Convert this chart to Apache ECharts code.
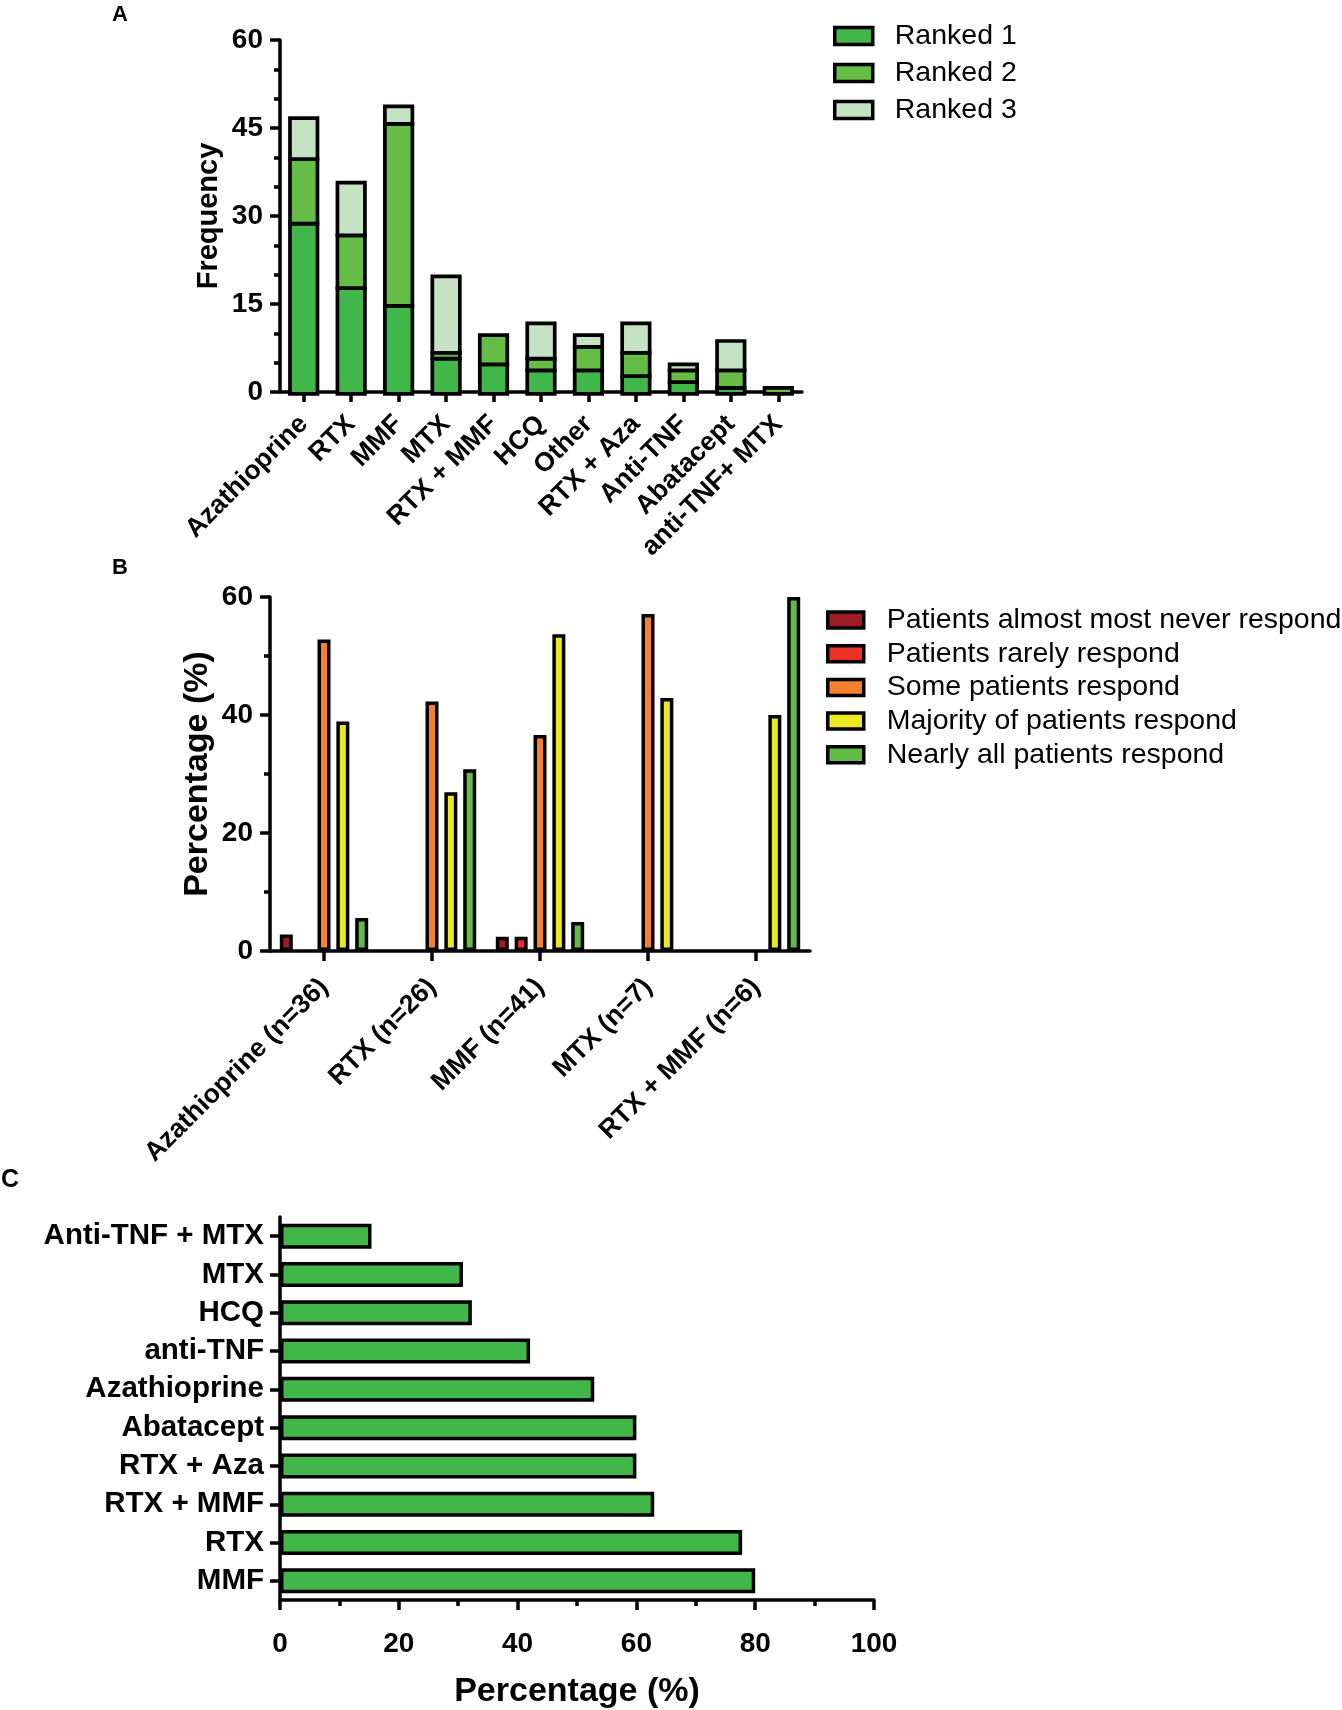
<!DOCTYPE html>
<html>
<head>
<meta charset="utf-8">
<script src="https://cdn.jsdelivr.net/npm/echarts@6/dist/echarts.min.js"></script>
<style>
html,body{margin:0;padding:0;background:#fff;}
#chart{width:1342px;height:1710px;}
</style>
</head>
<body>
<div id="chart"></div>
<script>
// ---- Panel A data ----
const rankCats = ['Azathioprine','RTX','MMF','MTX','RTX + MMF','HCQ','Other','RTX + Aza','Anti-TNF','Abatacept','anti-TNF+ MTX'];
const ranked1 = [29, 18, 15, 6, 5, 4, 4, 3, 2, 1, 0];
const ranked2 = [11, 9, 31, 1, 5, 2, 4, 4, 2, 3, 1];
const ranked3 = [7, 9, 3, 13, 0, 6, 2, 5, 1, 5, 0];
const rankTicks = [0, 15, 30, 45, 60];

// ---- Panel B data ----
const respCats = ['Azathioprine (n=36)','RTX (n=26)','MMF (n=41)','MTX (n=7)','RTX + MMF (n=6)'];
const almostNever = [2.8, 0, 2.4, 0, 0];
const rarely = [0, 0, 2.4, 0, 0];
const someResp = [52.8, 42.3, 36.6, 57.1, 0];
const majorityResp = [38.9, 26.9, 53.7, 42.9, 40];
const nearlyAll = [5.6, 30.8, 4.9, 0, 60];
const respTicks = [0, 20, 40, 60];

// ---- Panel C data ----
const effCats = ['Anti-TNF + MTX','MTX','HCQ','anti-TNF','Azathioprine','Abatacept','RTX + Aza','RTX + MMF','RTX','MMF'];
const effVals = [15.4, 30.8, 32.3, 42.1, 52.9, 60, 60, 63, 77.8, 80];
const effTicks = [0, 20, 40, 60, 80, 100];

const FONT = '"Liberation Sans", Arial, Helvetica, sans-serif';
const nz = arr => arr.map(v => v === 0 ? '-' : v);

// stacked segments [categoryIndex, start, end] built from the rank arrays
const rankSeries = [ranked1, ranked2, ranked3];
const rankColors = ['#41b649', '#66bd46', '#c4e3c3'];
const rankNames = ['Ranked 1', 'Ranked 2', 'Ranked 3'];
const cumul = rankCats.map(() => 0);
const rankSegments = rankSeries.map(arr => arr.map((v, i) => {
  const s = cumul[i];
  cumul[i] += v;
  return [i, s, s + v];
}));

function stackRender(color) {
  return function (params, api) {
    const idx = api.value(0), start = api.value(1), end = api.value(2);
    if (!(end > start)) return null;
    const pb = api.coord([idx, start]);
    const pt = api.coord([idx, end]);
    const w = 27.5;
    return {
      type: 'rect',
      shape: {x: pb[0] - w / 2, y: pt[1] + 1.8, width: w, height: pb[1] - pt[1]},
      style: {fill: color, stroke: '#000', lineWidth: 3.7}
    };
  };
}

const chart = echarts.init(document.getElementById('chart'), null, {renderer: 'canvas'});

function axisLine(w){ return {show:true, lineStyle:{color:'#000', width:w}}; }

const series = [];
rankNames.forEach((name, k) => {
  series.push({
    name: name, type: 'custom', xAxisIndex: 0, yAxisIndex: 0,
    data: rankSegments[k], encode: {x: 0, y: [1, 2]},
    itemStyle: {color: rankColors[k], borderColor: '#000', borderWidth: 3},
    renderItem: stackRender(rankColors[k]), z: 2 + k
  });
});

const respSeries = [
  ['Patients almost most never respond', almostNever, '#9e1d20'],
  ['Patients rarely respond', rarely, '#ed3127'],
  ['Some patients respond', someResp, '#f5822a'],
  ['Majority of patients respond', majorityResp, '#eee823'],
  ['Nearly all patients respond', nearlyAll, '#62bb46']
];
respSeries.forEach(([name, arr, color]) => {
  series.push({
    name: name, type: 'bar', xAxisIndex: 1, yAxisIndex: 1, data: nz(arr),
    barWidth: 13, barGap: '45%',
    itemStyle: {color: color, borderColor: '#000', borderWidth: 3.5}
  });
});

series.push({
  name: 'Effectiveness', type: 'bar', xAxisIndex: 2, yAxisIndex: 2, data: effVals, barWidth: 25,
  itemStyle: {color: '#41b649', borderColor: '#000', borderWidth: 3.5}
});

const option = {
  backgroundColor: '#fff',
  animation: false,
  textStyle: {fontFamily: FONT},
  title: [
    {text:'A', left:112, top:4, padding:0, textStyle:{fontSize:22, fontWeight:'bold', color:'#000', fontFamily:FONT}},
    {text:'B', left:112, top:557, padding:0, textStyle:{fontSize:22, fontWeight:'bold', color:'#000', fontFamily:FONT}},
    {text:'C', left:1, top:1168, padding:0, textStyle:{fontSize:25, fontWeight:'bold', color:'#000', fontFamily:FONT}}
  ],
  legend: [
    {
      data: rankNames,
      orient: 'vertical', left: 833, top: 21, padding: 0,
      itemWidth: 38, itemHeight: 17, itemGap: 7,
      icon: 'rect',
      itemStyle: {borderColor:'#000', borderWidth:3.5},
      textStyle: {fontSize:28.5, color:'#000', fontFamily:FONT, lineHeight:30, padding:[0,0,0,17]},
      selectedMode: false
    },
    {
      data: respSeries.map(s => s[0]),
      orient: 'vertical', left: 826, top: 605, padding: 0,
      itemWidth: 36, itemHeight: 16, itemGap: 3.7,
      icon: 'rect',
      itemStyle: {borderColor:'#000', borderWidth:3.5},
      textStyle: {fontSize:28.5, color:'#000', fontFamily:FONT, lineHeight:30, padding:[0,0,0,18]},
      selectedMode: false
    }
  ],
  grid: [
    {left:280, top:40, width:522, height:352},
    {left:270, top:597, width:540, height:354},
    {left:280, top:1217, width:594, height:384}
  ],
  xAxis: [
    {
      gridIndex:0, type:'category', data: rankCats,
      axisLine: axisLine(3.5),
      axisTick: {show:true, alignWithLabel:true, length:10, lineStyle:{width:3.5, color:'#000'}},
      axisLabel: {rotate:45, fontSize:26.5, fontWeight:'bold', color:'#000', fontFamily:FONT, margin:28, interval:0}
    },
    {
      gridIndex:1, type:'category', data: respCats,
      axisLine: axisLine(3.5),
      axisTick: {show:true, alignWithLabel:true, length:10, lineStyle:{width:3.5, color:'#000'}},
      axisLabel: {rotate:45, fontSize:26.5, fontWeight:'bold', color:'#000', fontFamily:FONT, margin:32, interval:0}
    },
    {
      gridIndex:2, type:'value', min: effTicks[0], max: effTicks[effTicks.length-1], interval: effTicks[1]-effTicks[0],
      axisLine: axisLine(3.5),
      axisTick: {show:true, length:10, lineStyle:{width:3.5, color:'#000'}},
      minorTick: {show:true, splitNumber:2, length:6, lineStyle:{width:3.5, color:'#000'}},
      splitLine: {show:false},
      axisLabel: {fontSize:28, fontWeight:'bold', color:'#000', fontFamily:FONT, margin:30},
      name: 'Percentage (%)', nameLocation:'middle', nameGap:75,
      nameTextStyle: {fontSize:34, fontWeight:'bold', color:'#000', fontFamily:FONT}
    }
  ],
  yAxis: [
    {
      gridIndex:0, type:'value', min: rankTicks[0], max: rankTicks[rankTicks.length-1], interval: rankTicks[1]-rankTicks[0],
      axisLine: axisLine(3.5),
      axisTick: {show:true, length:10, lineStyle:{width:3.5, color:'#000'}},
      minorTick: {show:true, splitNumber:3, length:6, lineStyle:{width:3.5, color:'#000'}},
      splitLine: {show:false},
      axisLabel: {fontSize:28, fontWeight:'bold', color:'#000', fontFamily:FONT, margin:17},
      name: 'Frequency', nameLocation:'middle', nameGap:57, nameRotate:90,
      nameTextStyle: {fontSize:29, fontWeight:'bold', color:'#000', fontFamily:FONT}
    },
    {
      gridIndex:1, type:'value', min: respTicks[0], max: respTicks[respTicks.length-1], interval: respTicks[1]-respTicks[0],
      axisLine: axisLine(3.5),
      axisTick: {show:true, length:10, lineStyle:{width:3.5, color:'#000'}},
      minorTick: {show:true, splitNumber:2, length:6, lineStyle:{width:3.5, color:'#000'}},
      splitLine: {show:false},
      axisLabel: {fontSize:28, fontWeight:'bold', color:'#000', fontFamily:FONT, margin:17},
      name: 'Percentage (%)', nameLocation:'middle', nameGap:55, nameRotate:90,
      nameTextStyle: {fontSize:34, fontWeight:'bold', color:'#000', fontFamily:FONT}
    },
    {
      gridIndex:2, type:'category', data: effCats, inverse:true,
      axisLine: axisLine(3.5),
      axisTick: {show:true, alignWithLabel:true, length:10, lineStyle:{width:3.5, color:'#000'}},
      axisLabel: {fontSize:29.5, fontWeight:'bold', color:'#000', fontFamily:FONT, margin:16, interval:0}
    }
  ],
  series: series
};
chart.setOption(option);
</script>
</body>
</html>
